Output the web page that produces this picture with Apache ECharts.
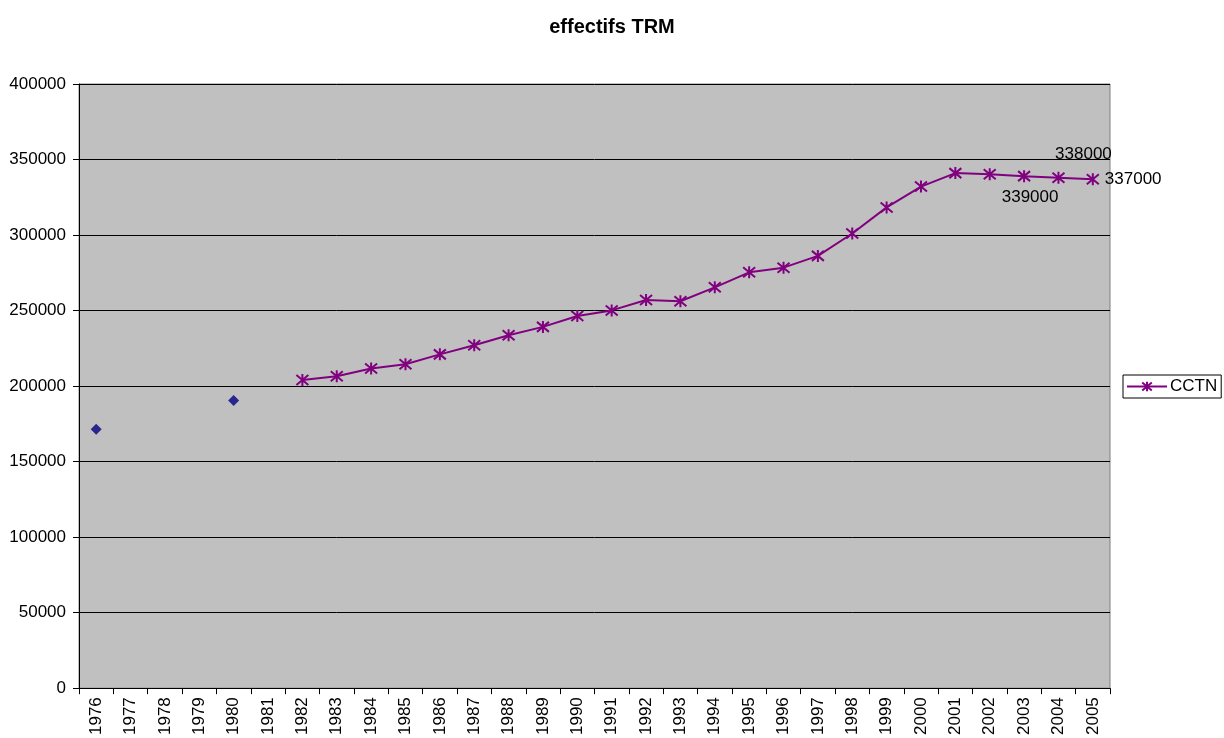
<!DOCTYPE html>
<html>
<head>
<meta charset="utf-8">
<title>effectifs TRM</title>
<script src="https://cdn.jsdelivr.net/npm/echarts@6/dist/echarts.min.js"></script>
<style>
  html, body { margin: 0; padding: 0; background: #fff; }
  #chart { width: 1224px; height: 738px; }
</style>
</head>
<body>
<div id="chart"></div>
<script>
// Years on the category axis
const years = ['1976','1977','1978','1979','1980','1981','1982','1983','1984','1985',
  '1986','1987','1988','1989','1990','1991','1992','1993','1994','1995',
  '1996','1997','1998','1999','2000','2001','2002','2003','2004','2005'];

// Earlier isolated counts (1976, 1980)
const earlyValues = [171500, null, null, null, 190500, null, null, null, null, null,
  null, null, null, null, null, null, null, null, null, null,
  null, null, null, null, null, null, null, null, null, null];

// CCTN series, 1982 onwards
const cctnValues = [null, null, null, null, null, null, 204000, 206500, 211700, 214500,
  221000, 227000, 233700, 239200, 246400, 250100, 257000, 256200, 265400, 275300,
  278400, 286200, 301000, 318300, 332100, 341000, 340300, 339000, 338000, 337000];

// Values printed next to the last points
const labelledYears = ['2003', '2004', '2005'];

const yTicks = { min: 0, max: 400000, interval: 50000 };

const FONT = 'Liberation Sans, Arial, sans-serif';
const purple = '#800080';
const starPath = 'path://M0,0L10,10M10,0L0,10M5,-1L5,11';

const labelStyles = {
  '2003': { position: 'bottom', distance: 6, offset: [6, 0] },
  '2004': { position: 'top', distance: 8, offset: [25, 0] },
  '2005': { position: 'right', distance: 5, offset: [0, 0] }
};

const cctnData = cctnValues.map((v, i) => {
  const y = years[i];
  if (v !== null && labelledYears.includes(y)) {
    return {
      value: v,
      label: Object.assign({
        show: true,
        color: '#000',
        fontFamily: FONT,
        fontSize: 17,
        formatter: '{c}'
      }, labelStyles[y])
    };
  }
  return v;
});

const chart = echarts.init(document.getElementById('chart'), null, { renderer: 'canvas' });

chart.setOption({
  animation: false,
  backgroundColor: '#fff',
  textStyle: { fontFamily: FONT },
  title: {
    text: 'effectifs TRM',
    left: 'center',
    top: 12,
    textStyle: { fontSize: 20, fontWeight: 'bold', color: '#000', fontFamily: FONT }
  },
  legend: {
    data: ['CCTN'],
    left: 1123,
    top: 375,
    orient: 'vertical',
    borderColor: '#000',
    borderWidth: 1,
    borderRadius: 0,
    padding: [3, 4, 3, 3],
    itemWidth: 40,
    itemHeight: 12,
    itemGap: 4,
    textStyle: { fontSize: 17, color: '#000', fontFamily: FONT, padding: [0, 0, 0, -2] }
  },
  grid: {
    left: 79,
    right: 114,
    top: 84,
    bottom: 47,
    show: true,
    backgroundColor: '#C0C0C0',
    borderColor: '#808080',
    borderWidth: 1
  },
  xAxis: {
    type: 'category',
    data: years,
    boundaryGap: true,
    axisLine: { show: true, lineStyle: { color: '#000', width: 1 } },
    axisTick: { show: true, length: 6, alignWithLabel: false, lineStyle: { color: '#000' } },
    axisLabel: {
      rotate: 90,
      interval: 0,
      margin: 9,
      color: '#000',
      fontSize: 17,
      fontFamily: FONT
    },
    splitLine: { show: false }
  },
  yAxis: {
    type: 'value',
    min: yTicks.min,
    max: yTicks.max,
    interval: yTicks.interval,
    axisLine: { show: true, lineStyle: { color: '#000', width: 1 } },
    axisTick: { show: true, length: 6, lineStyle: { color: '#000' } },
    axisLabel: {
      margin: 13,
      color: '#000',
      fontSize: 17,
      fontFamily: FONT,
      formatter: (v) => String(v)
    },
    splitLine: { show: true, lineStyle: { color: '#000', width: 1 } }
  },
  series: [
    {
      name: 'effectifs',
      type: 'scatter',
      data: earlyValues,
      symbol: 'diamond',
      symbolSize: 11,
      itemStyle: { color: '#000080' },
      z: 3
    },
    {
      name: 'CCTN',
      type: 'line',
      data: cctnData,
      connectNulls: false,
      symbol: starPath,
      symbolSize: 12,
      showAllSymbol: true,
      lineStyle: { color: purple, width: 2 },
      itemStyle: { color: purple, borderColor: purple, borderWidth: 2 },
      emphasis: { disabled: true },
      z: 4
    }
  ]
});
</script>
</body>
</html>
